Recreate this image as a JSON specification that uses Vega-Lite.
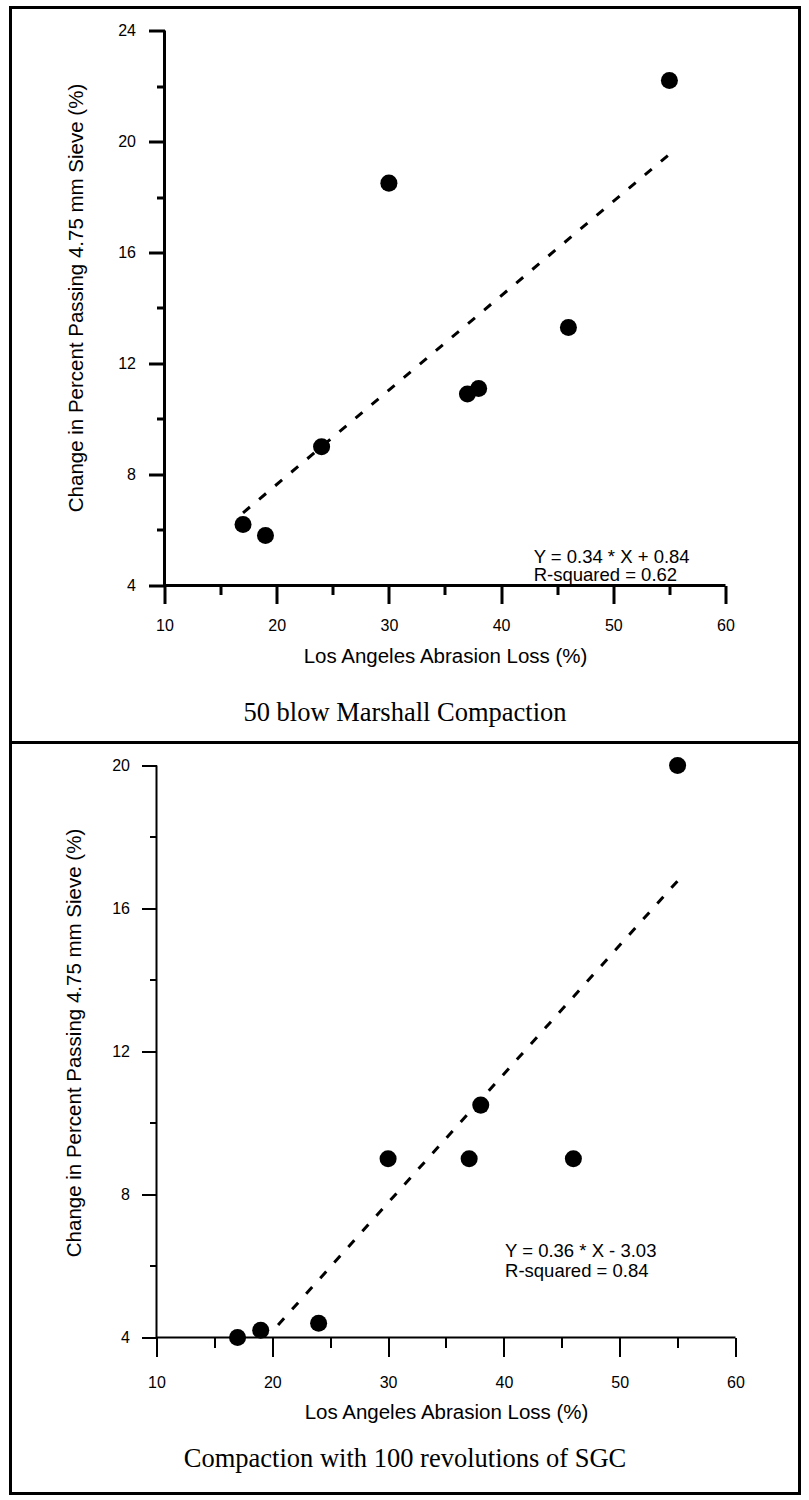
{
  "$schema": "https://vega.github.io/schema/vega-lite/v6.json",
  "padding": {"left": 8.5, "top": 5.5, "right": 0, "bottom": 0},
  "background": "white",
  "spacing": 0,
  "bounds": "flush",
  "config": {
    "view": {"stroke": "black", "strokeWidth": 3, "fill": "white"},
    "axis": {
      "grid": false,
      "domain": false,
      "tickColor": "black",
      "labelColor": "black",
      "labelFont": "Liberation Sans",
      "labelFontSize": 16,
      "titleColor": "black",
      "titleFont": "Liberation Sans",
      "titleFontSize": 20.5,
      "titleFontWeight": "normal"
    }
  },
  "datasets": {
    "marshall": [
      {"laLoss": 17, "change": 6.2},
      {"laLoss": 19, "change": 5.8},
      {"laLoss": 24, "change": 9.0},
      {"laLoss": 30, "change": 18.5},
      {"laLoss": 37, "change": 10.9},
      {"laLoss": 38, "change": 11.1},
      {"laLoss": 46, "change": 13.3},
      {"laLoss": 55, "change": 22.2}
    ],
    "marshallFit": [
      {"laLoss": 17, "change": 6.62},
      {"laLoss": 55, "change": 19.54}
    ],
    "sgc": [
      {"laLoss": 17, "change": 4.0},
      {"laLoss": 19, "change": 4.2},
      {"laLoss": 24, "change": 4.4},
      {"laLoss": 30, "change": 9.0},
      {"laLoss": 37, "change": 9.0},
      {"laLoss": 38, "change": 10.5},
      {"laLoss": 46, "change": 9.0},
      {"laLoss": 55, "change": 20.0}
    ],
    "sgcFit": [
      {"laLoss": 20.5, "change": 4.35},
      {"laLoss": 55, "change": 16.77}
    ]
  },
  "vconcat": [
    {
      "width": 789,
      "height": 735,
      "title": {
        "text": "50 blow Marshall Compaction",
        "orient": "bottom",
        "anchor": "middle",
        "frame": "group",
        "font": "Liberation Serif",
        "fontSize": 26.5,
        "fontWeight": "normal",
        "color": "black",
        "baseline": "alphabetic",
        "offset": -22
      },
      "layer": [
        {
          "data": {"name": "marshall"},
          "mark": {"type": "circle", "size": 290, "color": "black", "opacity": 1},
          "encoding": {
            "x": {
              "field": "laLoss", "type": "quantitative",
              "scale": {"domain": [-3.725, 66.595], "nice": false, "zero": false},
              "axis": {
                "orient": "bottom", "offset": -157,
                "values": [10, 20, 30, 40, 50, 60],
                "tickSize": 18, "tickWidth": 3,
                "labelBaseline": "alphabetic", "labelPadding": 27,
                "title": "Los Angeles Abrasion Loss (%)",
                "titleX": 434.5, "titleY": 77, "titleBaseline": "alphabetic", "titleAlign": "center"
              }
            },
            "y": {
              "field": "change", "type": "quantitative",
              "scale": {"domain": [-1.658, 24.829], "nice": false, "zero": false},
              "axis": {
                "orient": "left", "offset": -154,
                "values": [4, 8, 12, 16, 20, 24],
                "tickSize": 16, "tickWidth": 3,
                "labelPadding": 13,
                "title": "Change in Percent Passing 4.75 mm Sieve (%)",
                "titleX": -82, "titleY": 290, "titleAngle": -90,
                "titleBaseline": "alphabetic", "titleAlign": "center"
              }
            }
          }
        },
        {
          "data": {"name": "marshallFit"},
          "mark": {"type": "line", "color": "black", "strokeWidth": 3, "strokeDash": [9, 12]},
          "encoding": {
            "x": {
              "field": "laLoss", "type": "quantitative",
              "scale": {"domain": [-3.725, 66.595], "nice": false, "zero": false},
              "axis": {
                "orient": "bottom", "offset": -157,
                "values": [15, 25, 35, 45, 55],
                "tickSize": 9, "tickWidth": 3,
                "labels": false, "title": null
              }
            },
            "y": {
              "field": "change", "type": "quantitative",
              "scale": {"domain": [-1.658, 24.829], "nice": false, "zero": false},
              "axis": {
                "orient": "left", "offset": -154,
                "values": [6, 10, 14, 18, 22],
                "tickSize": 8, "tickWidth": 3,
                "labels": false, "title": null
              }
            }
          }
        },
        {
          "data": {"values": [{}]},
          "mark": {"type": "rule", "color": "black", "strokeWidth": 3},
          "encoding": {
            "x": {"datum": 10, "type": "quantitative", "scale": {"domain": [-3.725, 66.595], "nice": false, "zero": false}, "axis": null},
            "x2": {"datum": 60},
            "y": {"datum": 4, "type": "quantitative", "scale": {"domain": [-1.658, 24.829], "nice": false, "zero": false}, "axis": null}
          }
        },
        {
          "data": {"values": [{}]},
          "mark": {"type": "rule", "color": "black", "strokeWidth": 3},
          "encoding": {
            "x": {"datum": 10, "type": "quantitative", "scale": {"domain": [-3.725, 66.595], "nice": false, "zero": false}, "axis": null},
            "y": {"datum": 4, "type": "quantitative", "scale": {"domain": [-1.658, 24.829], "nice": false, "zero": false}, "axis": null},
            "y2": {"datum": 24}
          }
        },
        {
          "data": {"values": [{"label": "Y = 0.34 * X + 0.84\nR-squared = 0.62"}]},
          "mark": {"type": "text", "align": "left", "baseline": "alphabetic", "font": "Liberation Sans", "fontSize": 18.5, "lineBreak": "\n", "lineHeight": 18, "color": "black"},
          "encoding": {
            "x": {"datum": 42.9, "type": "quantitative", "scale": {"domain": [-3.725, 66.595], "nice": false, "zero": false}, "axis": null},
            "y": {"datum": 4.82, "type": "quantitative", "scale": {"domain": [-1.658, 24.829], "nice": false, "zero": false}, "axis": null},
            "text": {"field": "label"}
          }
        }
      ],
      "resolve": {"axis": {"x": "independent", "y": "independent"}}
    },
    {
      "width": 789,
      "height": 751,
      "title": {
        "text": "Compaction with 100 revolutions of SGC",
        "orient": "bottom",
        "anchor": "middle",
        "frame": "group",
        "font": "Liberation Serif",
        "fontSize": 26.5,
        "fontWeight": "normal",
        "color": "black",
        "baseline": "alphabetic",
        "offset": -27
      },
      "layer": [
        {
          "data": {"name": "sgc"},
          "mark": {"type": "circle", "size": 290, "color": "black", "opacity": 1},
          "encoding": {
            "x": {
              "field": "laLoss", "type": "quantitative",
              "scale": {"domain": [-2.608, 65.527], "nice": false, "zero": false},
              "axis": {
                "orient": "bottom", "offset": -156,
                "values": [10, 20, 30, 40, 50, 60],
                "tickSize": 19, "tickWidth": 2,
                "labelBaseline": "alphabetic", "labelPadding": 31,
                "title": "Los Angeles Abrasion Loss (%)",
                "titleX": 435.5, "titleY": 81, "titleBaseline": "alphabetic", "titleAlign": "center"
              }
            },
            "y": {
              "field": "change", "type": "quantitative",
              "scale": {"domain": [-0.364, 20.643], "nice": false, "zero": false},
              "axis": {
                "orient": "left", "offset": -146,
                "values": [4, 8, 12, 16, 20],
                "tickSize": 15, "tickWidth": 2,
                "labelPadding": 12,
                "title": "Change in Percent Passing 4.75 mm Sieve (%)",
                "titleX": -76, "titleY": 300, "titleAngle": -90,
                "titleBaseline": "alphabetic", "titleAlign": "center"
              }
            }
          }
        },
        {
          "data": {"name": "sgcFit"},
          "mark": {"type": "line", "color": "black", "strokeWidth": 3, "strokeDash": [9, 12]},
          "encoding": {
            "x": {
              "field": "laLoss", "type": "quantitative",
              "scale": {"domain": [-2.608, 65.527], "nice": false, "zero": false},
              "axis": {
                "orient": "bottom", "offset": -156,
                "values": [15, 25, 35, 45, 55],
                "tickSize": 10, "tickWidth": 2,
                "labels": false, "title": null
              }
            },
            "y": {
              "field": "change", "type": "quantitative",
              "scale": {"domain": [-0.364, 20.643], "nice": false, "zero": false},
              "axis": {
                "orient": "left", "offset": -146,
                "values": [6, 10, 14, 18],
                "tickSize": 7, "tickWidth": 2,
                "labels": false, "title": null
              }
            }
          }
        },
        {
          "data": {"values": [{}]},
          "mark": {"type": "rule", "color": "black", "strokeWidth": 2},
          "encoding": {
            "x": {"datum": 10, "type": "quantitative", "scale": {"domain": [-2.608, 65.527], "nice": false, "zero": false}, "axis": null},
            "x2": {"datum": 60},
            "y": {"datum": 4, "type": "quantitative", "scale": {"domain": [-0.364, 20.643], "nice": false, "zero": false}, "axis": null}
          }
        },
        {
          "data": {"values": [{}]},
          "mark": {"type": "rule", "color": "black", "strokeWidth": 2},
          "encoding": {
            "x": {"datum": 10, "type": "quantitative", "scale": {"domain": [-2.608, 65.527], "nice": false, "zero": false}, "axis": null},
            "y": {"datum": 4, "type": "quantitative", "scale": {"domain": [-0.364, 20.643], "nice": false, "zero": false}, "axis": null},
            "y2": {"datum": 20}
          }
        },
        {
          "data": {"values": [{"label": "Y = 0.36 * X  - 3.03\nR-squared = 0.84"}]},
          "mark": {"type": "text", "align": "left", "baseline": "alphabetic", "font": "Liberation Sans", "fontSize": 18.5, "lineBreak": "\n", "lineHeight": 20, "color": "black"},
          "encoding": {
            "x": {"datum": 40.1, "type": "quantitative", "scale": {"domain": [-2.608, 65.527], "nice": false, "zero": false}, "axis": null},
            "y": {"datum": 6.25, "type": "quantitative", "scale": {"domain": [-0.364, 20.643], "nice": false, "zero": false}, "axis": null},
            "text": {"field": "label"}
          }
        }
      ],
      "resolve": {"axis": {"x": "independent", "y": "independent"}}
    }
  ]
}
